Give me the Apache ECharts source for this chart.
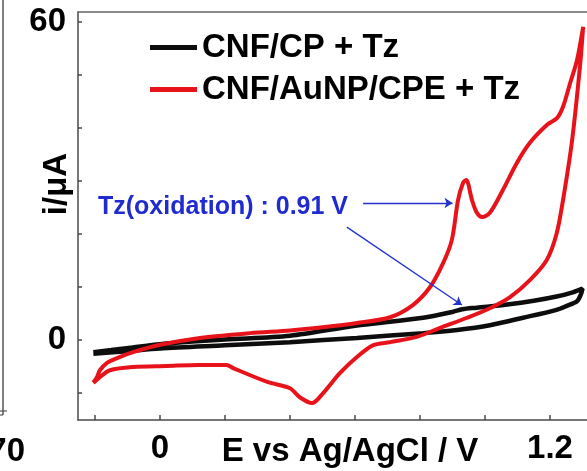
<!DOCTYPE html>
<html>
<head>
<meta charset="utf-8">
<script src="https://cdn.jsdelivr.net/npm/echarts@6/dist/echarts.min.js"></script>
<style>html,body{margin:0;padding:0;background:#fff;}#c{width:587px;height:471px;}</style>
</head>
<body>
<div id="c"></div>
<script>
// ---- data ----
var seriesNames = ['CNF/CP + Tz', 'CNF/AuNP/CPE + Tz'];
var xTickValues = [-0.2, 0, 0.2, 0.4, 0.6, 0.8, 1.0, 1.2];
var xLabelValues = [0, 1.2];
var yTickValues = [-10, 0, 10, 20, 30, 40, 50, 60];
var yLabelValues = [0, 60];

// CNF/CP + Tz : [E (V), i (uA)] — forward then reverse scan
var cnfCP = [
  [-0.205, -2.3], [-0.15, -1.9], [-0.083, -1.4], [0, -0.8], [0.1, -0.3], [0.2, 0.1],
  [0.4, 0.8], [0.6, 2.7], [0.81, 4.2], [0.9, 5.3], [0.93, 5.8], [0.975, 6.1],
  [1.068, 6.7], [1.15, 7.4], [1.22, 8.2], [1.27, 9.0], [1.30, 9.7],
  [1.295, 8.6], [1.283, 7.3], [1.25, 6.4], [1.22, 5.7], [1.117, 4.2], [1.015, 2.8],
  [0.914, 1.9], [0.81, 1.3], [0.606, 0.4], [0.4, -0.4], [0.2, -1.0], [0, -1.6],
  [-0.1, -2.1], [-0.205, -2.6]
];

// CNF/AuNP/CPE + Tz : [E (V), i (uA)] — forward then reverse scan
var cnfAuNP = [
  [-0.205, -8.0], [-0.194, -7.0], [-0.185, -5.7], [-0.163, -4.3], [-0.132, -3.4],
  [-0.083, -2.3], [0, -0.9], [0.123, 0.4], [0.277, 1.3], [0.4, 1.8], [0.5, 2.4],
  [0.606, 3.2], [0.708, 4.3], [0.778, 6.6], [0.831, 10.0], [0.871, 14.5],
  [0.898, 18.9], [0.917, 26.4], [0.932, 29.6], [0.942, 30.2], [0.96, 26.4],
  [0.975, 24.0], [0.991, 23.2], [1.015, 24.0], [1.055, 28.3], [1.098, 33.4],
  [1.138, 37.2], [1.191, 40.6], [1.222, 41.9], [1.24, 44.0], [1.262, 48.5],
  [1.283, 52.8], [1.302, 59.1],
  [1.292, 51.5], [1.268, 37.7], [1.24, 26.4], [1.22, 20.0], [1.19, 15.1],
  [1.138, 11.3], [1.077, 8.1], [1.015, 6.0], [0.945, 4.2], [0.862, 2.3],
  [0.79, 0.6], [0.708, -0.4], [0.655, -1.0], [0.606, -3.2], [0.554, -6.2],
  [0.502, -10.0], [0.468, -11.9], [0.43, -10.8], [0.40, -9.1], [0.33, -7.9],
  [0.225, -5.3], [0.205, -4.7], [0.12, -4.7], [0.02, -4.9], [-0.083, -5.1],
  [-0.154, -5.7], [-0.185, -7.0], [-0.205, -8.1]
];

// annotation arrows (data coordinates)
var arrowPeak = [[0.625, 25.85], [0.9, 25.85]];
var arrowCNF = [[0.575, 21.3], [0.929, 6.6]];
var annotationText = 'Tz(oxidation) : 0.91 V';

var FONT = 'Liberation Sans, Arial, sans-serif';
var chart = echarts.init(document.getElementById('c'));
var axisLineStyle = { color: '#4a4a4a', width: 1.5 };

chart.setOption({
  animation: false,
  backgroundColor: '#fff',
  grid: { left: 78, right: 0, top: 12, bottom: 51, containLabel: false },
  legend: {
    orient: 'vertical', left: 145, top: 26, itemWidth: 47, itemHeight: 5, itemGap: 9,
    icon: 'rect', data: seriesNames,
    textStyle: { fontSize: 33, fontWeight: 'bold', fontFamily: FONT, color: '#000' }
  },
  xAxis: [{
    type: 'value', min: -0.2523, max: 1.3138,
    axisLine: { show: true, onZero: false, lineStyle: axisLineStyle },
    axisTick: { show: true, inside: true, length: 5, customValues: xTickValues, lineStyle: axisLineStyle },
    axisLabel: { customValues: xLabelValues, fontSize: 33, fontWeight: 'bold', fontFamily: FONT, color: '#000', margin: 12,
      formatter: function (v) { return v === 0 ? '0' : String(v); } },
    splitLine: { show: false }
  }, {
    type: 'value', position: 'top', min: -0.2523, max: 1.3138,
    axisLine: { show: true, onZero: false, lineStyle: { color: '#666', width: 1.5 } },
    axisTick: { show: false }, axisLabel: { show: false }, splitLine: { show: false }
  }],
  yAxis: {
    type: 'value', min: -15.09, max: 61.89,
    axisLine: { show: true, onZero: false, lineStyle: axisLineStyle },
    axisTick: { show: true, inside: true, length: 4, customValues: yTickValues, lineStyle: axisLineStyle },
    axisLabel: { customValues: yLabelValues, fontSize: 33, fontWeight: 'bold', fontFamily: FONT, color: '#000', margin: 12 },
    splitLine: { show: false }
  },
  series: [{
    name: seriesNames[0], type: 'line', data: cnfCP, showSymbol: false, symbol: 'none',
    smooth: 0.3, lineStyle: { color: '#0d0d0d', width: 4.5 }, itemStyle: { color: '#0d0d0d' }, z: 3
  }, {
    name: seriesNames[1], type: 'line', data: cnfAuNP, showSymbol: false, symbol: 'none',
    smooth: 0.3, lineStyle: { color: '#e8131a', width: 4 }, itemStyle: { color: '#e8131a' }, z: 4,
    markLine: {
      silent: true, symbol: ['none', 'arrow'], symbolSize: 8,
      lineStyle: { color: '#2233cc', width: 1.3, type: 'solid' },
      label: { show: false },
      data: [
        [{ coord: arrowPeak[0] }, { coord: arrowPeak[1] }],
        [{ coord: arrowCNF[0] }, { coord: arrowCNF[1] }]
      ]
    }
  }],
  graphic: [
    { type: 'text', x: 57, y: 184, rotation: Math.PI / 2,
      style: { text: 'i/μA', font: 'bold 33px ' + FONT, fill: '#000', textAlign: 'center', textVerticalAlign: 'middle' } },
    { type: 'text', x: 350, y: 452,
      style: { text: 'E vs Ag/AgCl / V', font: 'bold 33px ' + FONT, fill: '#000', textAlign: 'center', textVerticalAlign: 'middle' } },
    { type: 'text', x: 25, y: 452,
      style: { text: '70', font: 'bold 33px ' + FONT, fill: '#000', textAlign: 'right', textVerticalAlign: 'middle' } },
    { type: 'text', x: 98, y: 207,
      style: { text: annotationText, font: 'bold 25px ' + FONT, fill: '#1f2bd0', textAlign: 'left', textVerticalAlign: 'middle' } },
    { type: 'line', shape: { x1: 3, y1: 0, x2: 3, y2: 415 }, style: { stroke: '#555', lineWidth: 1.5 } },
    { type: 'line', shape: { x1: 0, y1: 411, x2: 7, y2: 411 }, style: { stroke: '#555', lineWidth: 1.2 } },
    { type: 'line', shape: { x1: 0, y1: 415, x2: 3, y2: 415 }, style: { stroke: '#555', lineWidth: 1.2 } }
  ]
});
</script>
</body>
</html>
